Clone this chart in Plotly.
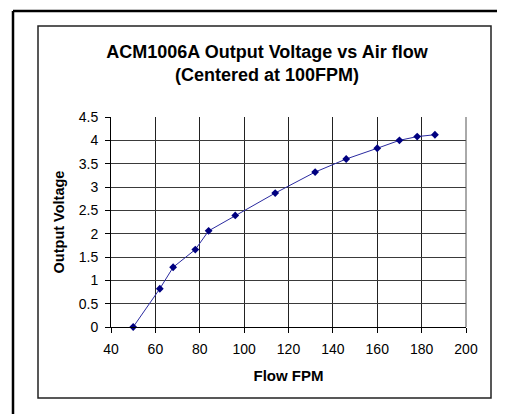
import plotly.graph_objects as go

flow_fpm = [50, 62, 68, 78, 84, 96, 114, 132, 146, 160, 170, 178, 186]
output_voltage = [0.0, 0.82, 1.28, 1.66, 2.06, 2.39, 2.87, 3.32, 3.60, 3.83, 4.00, 4.08, 4.12]
x_ticks = [40, 60, 80, 100, 120, 140, 160, 180, 200]
y_ticks = [0, 0.5, 1, 1.5, 2, 2.5, 3, 3.5, 4, 4.5]

# page has an 8px body margin; figure coordinates = page coordinates - OFF
OFF = 8
W, H = 505 - OFF, 414 - OFF
PL, PR, PT, PB = 111, 466, 117, 327   # plot area in page pixels
L, R, T, B = PL - OFF, W - (PR - OFF), PT - OFF, H - (PB - OFF)
PW, PH = PR - PL, PB - PT

def px(x):
    return (x - PL) / PW

def py(y):
    return 1 - (y - PT) / PH

FONT = "Liberation Sans, Arial, sans-serif"

fig = go.Figure()
fig.add_trace(go.Scatter(
    x=flow_fpm, y=output_voltage, mode="lines+markers",
    line=dict(color="#2a2aa0", width=1),
    marker=dict(symbol="diamond", size=6, color="#000080"),
    showlegend=False, cliponaxis=False,
))

fig.update_layout(
    width=W, height=H,
    margin=dict(l=L, r=R, t=T, b=B),
    paper_bgcolor="white", plot_bgcolor="white",
    font=dict(family=FONT, size=14, color="black"),
    title=dict(
        text="<b>ACM1006A Output Voltage vs Air flow<br>(Centered at 100FPM)</b>",
        x=px(267), xref="paper", xanchor="center",
        y=1 - (58 - OFF) / H, yref="container", yanchor="middle",
        font=dict(family=FONT, size=18, color="black"),
    ),
    xaxis=dict(
        range=[40, 200], tickvals=x_ticks, ticktext=[str(v) for v in x_ticks],
        showgrid=True, gridcolor="#222222", gridwidth=1,
        showline=True, linecolor="black", linewidth=1, mirror=False,
        ticks="outside", ticklen=5, tickcolor="black",
        ticklabelstandoff=4,
        zeroline=False,
        title=dict(text="<b>Flow FPM</b>", font=dict(family=FONT, size=15), standoff=14),
        tickfont=dict(size=14),
    ),
    yaxis=dict(
        range=[0, 4.5], tickvals=y_ticks, ticktext=[f"{v:g}" for v in y_ticks],
        showgrid=True, gridcolor="#3a3a3a", gridwidth=1,
        showline=True, linecolor="black", linewidth=1,
        ticks="outside", ticklen=5, tickcolor="black",
        ticklabelstandoff=4,
        zeroline=False,
        title=dict(text="<b>Output Voltage</b>", font=dict(family=FONT, size=14.5), standoff=10),
        tickfont=dict(size=14),
    ),
    shapes=[
        # outer frame (partially visible)
        dict(type="line", xref="paper", yref="paper",
             x0=px(13), x1=px(520), y0=py(11), y1=py(11),
             line=dict(color="black", width=2.5)),
        dict(type="line", xref="paper", yref="paper",
             x0=px(13), x1=px(13), y0=py(11), y1=py(430),
             line=dict(color="black", width=2.5)),
        # chart area frame
        dict(type="rect", xref="paper", yref="paper",
             x0=px(38), x1=px(491), y0=py(26), y1=py(398),
             line=dict(color="#222222", width=1.5)),
        # plot area right border
        dict(type="line", xref="paper", yref="paper",
             x0=1, x1=1, y0=0, y1=1, line=dict(color="#555555", width=1)),
    ],
)

fig.write_html("out.html")
